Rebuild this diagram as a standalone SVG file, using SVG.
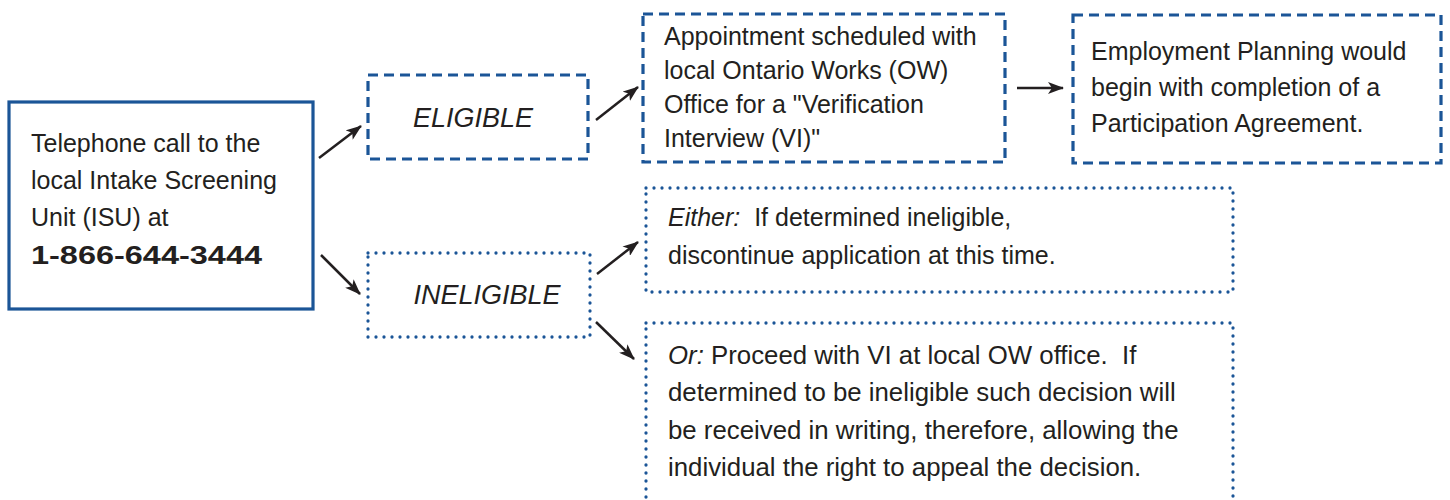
<svg xmlns="http://www.w3.org/2000/svg" width="1450" height="500" viewBox="0 0 1450 500">
<style>
.t{font-family:"Liberation Sans",Arial,sans-serif;font-size:25px;fill:#231f20}
.o{font-size:25.8px}
.i{font-style:italic}
.b{font-weight:bold}
.solid{fill:#fff;stroke:#1b5597;stroke-width:3.2}
.dash{fill:#fff;stroke:#1b5597;stroke-width:3.2;stroke-dasharray:10 6}
.dot{fill:#fff;stroke:#1b5597;stroke-width:3.3;stroke-dasharray:0 8;stroke-linecap:round}
.arr{stroke:#231f20;stroke-width:2.5;fill:none;marker-end:url(#ah)}
</style>
<defs>
<marker id="ah" viewBox="0 0 16 12" markerWidth="16" markerHeight="12" refX="15" refY="6" orient="auto" markerUnits="userSpaceOnUse">
<path d="M0,0 L16,6 L0,12 L4,6 z" fill="#231f20"/>
</marker>
</defs>
<rect width="1450" height="500" fill="#fff"/>
<g id="connectors">
<line class="arr" x1="319" y1="158" x2="361" y2="126"/>
<line class="arr" x1="596" y1="120" x2="638" y2="87"/>
<line class="arr" x1="1017" y1="88" x2="1063" y2="88"/>
<line class="arr" x1="321" y1="255" x2="360" y2="294"/>
<line class="arr" x1="597" y1="274" x2="638" y2="242"/>
<line class="arr" x1="596" y1="322" x2="634" y2="359"/>
</g>
<g id="isu">
<rect class="solid" x="9" y="102" width="304" height="207"/>
<text class="t" x="31" y="152">Telephone call to the</text>
<text class="t" x="31" y="189">local Intake Screening</text>
<text class="t" x="31" y="226">Unit (ISU) at</text>
<text class="t b" x="31" y="264" style="font-size:26px" textLength="231" lengthAdjust="spacingAndGlyphs">1-866-644-3444</text>
</g>
<g id="eligible">
<rect class="dash" x="368" y="75" width="220" height="84"/>
<text class="t i" x="473" y="127" text-anchor="middle" style="font-size:27px">ELIGIBLE</text>
</g>
<g id="ineligible">
<rect class="dot" x="368" y="253" width="222" height="84"/>
<text class="t i" x="487" y="304" text-anchor="middle" style="font-size:27px">INELIGIBLE</text>
</g>
<g id="appointment">
<rect class="dash" x="643" y="14" width="362" height="148"/>
<text class="t" x="664" y="45">Appointment scheduled with</text>
<text class="t" x="664" y="79">local Ontario Works (OW)</text>
<text class="t" x="664" y="113">Office for a "Verification</text>
<text class="t" x="664" y="147">Interview (VI)"</text>
</g>
<g id="employment">
<rect class="dash" x="1073" y="15" width="368" height="148"/>
<text class="t" x="1091" y="60">Employment Planning would</text>
<text class="t" x="1091" y="96">begin with completion of a</text>
<text class="t" x="1091" y="132">Participation Agreement.</text>
</g>
<g id="either">
<rect class="dot" x="646" y="188" width="587" height="104"/>
<text class="t" x="668" y="226"><tspan class="i">Either:</tspan>&#160; If determined ineligible,</text>
<text class="t" x="668" y="264">discontinue application at this time.</text>
</g>
<g id="or">
<rect class="dot" x="646" y="323" width="587" height="200"/>
<text class="t o" x="668" y="364"><tspan class="i">Or:</tspan> Proceed with VI at local OW office.&#160; If</text>
<text class="t o" x="668" y="401">determined to be ineligible such decision will</text>
<text class="t o" x="668" y="439">be received in writing, therefore, allowing the</text>
<text class="t o" x="668" y="476">individual the right to appeal the decision.</text>
</g>
</svg>
